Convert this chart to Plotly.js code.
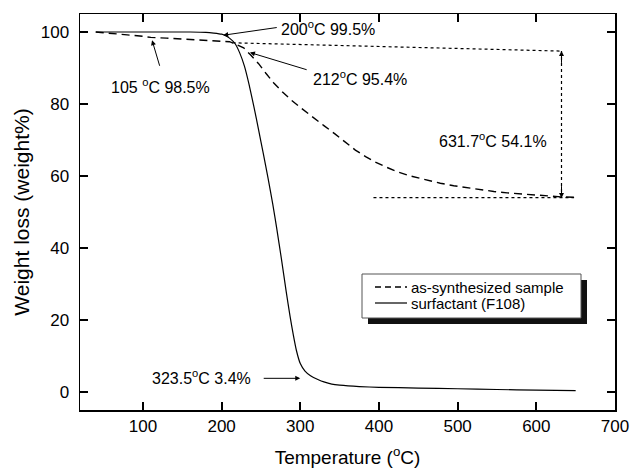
<!DOCTYPE html>
<html>
<head>
<meta charset="utf-8">
<script src="https://cdn.plot.ly/plotly-3.0.1.min.js"></script>
<style>html,body{margin:0;padding:0;background:#fff;}#chart{width:630px;height:468px;}</style>
</head>
<body>
<div id="chart"></div>
<script>
// Surfactant (F108) TGA curve
const surfTemp = [40, 80, 120, 160, 180, 190, 200, 205, 210, 217, 223, 229, 235, 241, 247, 253, 259, 265, 270, 276, 282, 287, 291, 295, 300, 306, 313, 323, 330, 340, 350, 375, 400, 450, 500, 550, 600, 650];
const surfWeight = [100, 100, 100, 100, 99.9, 99.7, 99.4, 99.0, 98.3, 96.8, 94.2, 90.5, 85.3, 79.3, 72.8, 66.2, 59.4, 52.2, 45.5, 37.0, 28.0, 21.0, 16.0, 11.6, 7.9, 5.8, 4.5, 3.4, 2.8, 2.2, 1.9, 1.5, 1.3, 1.1, 0.9, 0.7, 0.5, 0.4];

// As-synthesized sample TGA curve
const sampTemp = [40, 60, 80, 100, 110, 130, 150, 170, 190, 200, 210, 216, 222, 228, 237, 247, 256, 266, 277, 289, 302, 315, 330, 344, 357, 370, 383, 395, 410, 423, 440, 461, 478, 495, 512, 529, 546, 563, 580, 597, 615, 632, 648];
const sampWeight = [100, 99.7, 99.2, 98.8, 98.5, 98.3, 98.1, 97.9, 97.7, 97.6, 97.3, 96.8, 96.2, 95.6, 93.6, 91.2, 88.6, 85.9, 83.4, 81.0, 78.7, 76.4, 74.0, 71.7, 69.4, 67.2, 65.4, 63.9, 62.4, 61.2, 60.0, 58.8, 58.0, 57.3, 56.7, 56.2, 55.7, 55.3, 55.0, 54.7, 54.4, 54.2, 54.1];

const seriesNames = ["as-synthesized sample", "surfactant (F108)"];
const xTitle = "Temperature (<sup>o</sup>C)";
const yTitle = "Weight loss (weight%)";

// annotation texts
const labels = ["200<sup>o</sup>C 99.5%", "212<sup>o</sup>C 95.4%", "105 <sup>o</sup>C 98.5%", "631.7<sup>o</sup>C 54.1%", "323.5<sup>o</sup>C 3.4%"];

const FONT = "Liberation Sans, Arial, Helvetica, sans-serif";
const M = {l: 80, r: 15, t: 14, b: 58};
const PW = 630 - M.l - M.r, PH = 468 - M.t - M.b;
function pX(px) { return (px - M.l) / PW; }
function pY(py) { return (M.t + PH - py) / PH; }
const X_RANGE = [20, 700], Y_RANGE = [-5, 105];

const traces = [
  {x: sampTemp, y: sampWeight, name: seriesNames[0], mode: "lines", type: "scatter",
   line: {color: "#000", width: 1.4, dash: "8px,5px"}},
  {x: surfTemp, y: surfWeight, name: seriesNames[1], mode: "lines", type: "scatter",
   line: {color: "#000", width: 1.2, shape: "spline", smoothing: 0.5}}
];

function arrow(tx, ty, fx, fy) {
  return {x: tx, y: ty, ax: fx, ay: fy, xref: "x", yref: "y", axref: "x", ayref: "y",
    text: "", showarrow: true, arrowhead: 2, arrowsize: 1, arrowwidth: 1, arrowcolor: "#000"};
}
function label(t, x, y) {
  return {x: x, y: y, xref: "x", yref: "y", text: t, showarrow: false, xanchor: "left", yanchor: "middle",
    font: {family: FONT, size: 16, color: "#000"}, borderpad: 0};
}

// manual legend (box with drop shadow)
const legBox = {x0: 362, y0: 274, x1: 581, y1: 318};
const legRows = [287, 303];
const legendShapes = [
  {type: "rect", xref: "paper", yref: "paper", layer: "above",
   x0: pX(legBox.x0 + 6), x1: pX(legBox.x1 + 6), y0: pY(legBox.y1 + 6), y1: pY(legBox.y0 + 6),
   fillcolor: "#111", line: {width: 0}},
  {type: "rect", xref: "paper", yref: "paper", layer: "above",
   x0: pX(legBox.x0), x1: pX(legBox.x1), y0: pY(legBox.y1), y1: pY(legBox.y0),
   fillcolor: "#fff", line: {color: "#555", width: 1}},
  {type: "line", xref: "paper", yref: "paper", layer: "above",
   x0: pX(375), x1: pX(407), y0: pY(legRows[0]), y1: pY(legRows[0]),
   line: {color: "#000", width: 1.4, dash: "6px,4px"}},
  {type: "line", xref: "paper", yref: "paper", layer: "above",
   x0: pX(375), x1: pX(407), y0: pY(legRows[1]), y1: pY(legRows[1]),
   line: {color: "#000", width: 1.2}}
];
const legendTexts = seriesNames.map(function (n, i) {
  return {xref: "paper", yref: "paper", x: pX(410), y: pY(legRows[i]), text: n, showarrow: false,
    xanchor: "left", yanchor: "middle", font: {family: FONT, size: 15, color: "#000"}, borderpad: 0};
});

const annotations = [
  arrow(202, 99.1, 272, 101.3),
  arrow(236, 94.3, 310, 89.4),
  arrow(111.6, 97.7, 121.8, 90.2),
  arrow(299.9, 3.8, 251.6, 3.8),
  arrow(632, 94.7, 632, 91),
  arrow(632, 53.9, 632, 57.6),
  label(labels[0], 274.5, 101),
  label(labels[1], 314.8, 87.3),
  label(labels[2], 58.2, 84.9),
  label(labels[3], 475.5, 69.9),
  label(labels[4], 110, 4.1)
].concat(legendTexts);

const shapes = [
  {type: "line", xref: "x", yref: "y", x0: 214, y0: 97.0, x1: 632, y1: 94.7, line: {color: "#000", width: 1.2, dash: "dot"}},
  {type: "line", xref: "x", yref: "y", x0: 393, y0: 54.0, x1: 648, y1: 54.0, line: {color: "#000", width: 1.2, dash: "dot"}},
  {type: "line", xref: "x", yref: "y", x0: 632, y0: 94.7, x1: 632, y1: 53.9, line: {color: "#000", width: 1.2, dash: "dot"}}
].concat(legendShapes);

const layout = {
  width: 630, height: 468,
  margin: M,
  paper_bgcolor: "#fff", plot_bgcolor: "#fff",
  font: {family: FONT, color: "#000"},
  showlegend: false,
  xaxis: {
    range: X_RANGE, tickmode: "linear", tick0: 0, dtick: 100,
    showgrid: false, zeroline: false, showline: true, linecolor: "#000", linewidth: 1.5,
    mirror: "ticks", ticks: "inside", ticklen: 8, tickwidth: 2, tickcolor: "#000",
    tickfont: {family: FONT, size: 17, color: "#000"},
    title: {text: xTitle, font: {family: FONT, size: 19, color: "#000"}, standoff: 16}
  },
  yaxis: {
    range: Y_RANGE, tickmode: "linear", tick0: 0, dtick: 20,
    showgrid: false, zeroline: false, showline: true, linecolor: "#000", linewidth: 1.5,
    mirror: "ticks", ticks: "inside", ticklen: 8, tickwidth: 2, tickcolor: "#000",
    tickfont: {family: FONT, size: 17, color: "#000"}, ticklabelstandoff: 6,
    title: {text: yTitle, font: {family: FONT, size: 21, color: "#000"}, standoff: 5}
  },
  // overlay axes carrying the minor ticks
  xaxis2: {
    overlaying: "x", anchor: "y", side: "bottom", range: X_RANGE, tickmode: "linear", tick0: 0, dtick: 50,
    showgrid: false, zeroline: false, showline: false, showticklabels: false,
    mirror: "ticks", ticks: "inside", ticklen: 4, tickwidth: 1.6, tickcolor: "#000"
  },
  yaxis2: {
    overlaying: "y", anchor: "x", side: "left", range: Y_RANGE, tickmode: "linear", tick0: 0, dtick: 4,
    showgrid: false, zeroline: false, showline: false, showticklabels: false,
    mirror: "ticks", ticks: "inside", ticklen: 5, tickwidth: 1.6, tickcolor: "#000"
  },
  annotations: annotations,
  shapes: shapes
};

Plotly.newPlot("chart", traces, layout, {displayModeBar: false, staticPlot: true});
</script>
</body>
</html>
